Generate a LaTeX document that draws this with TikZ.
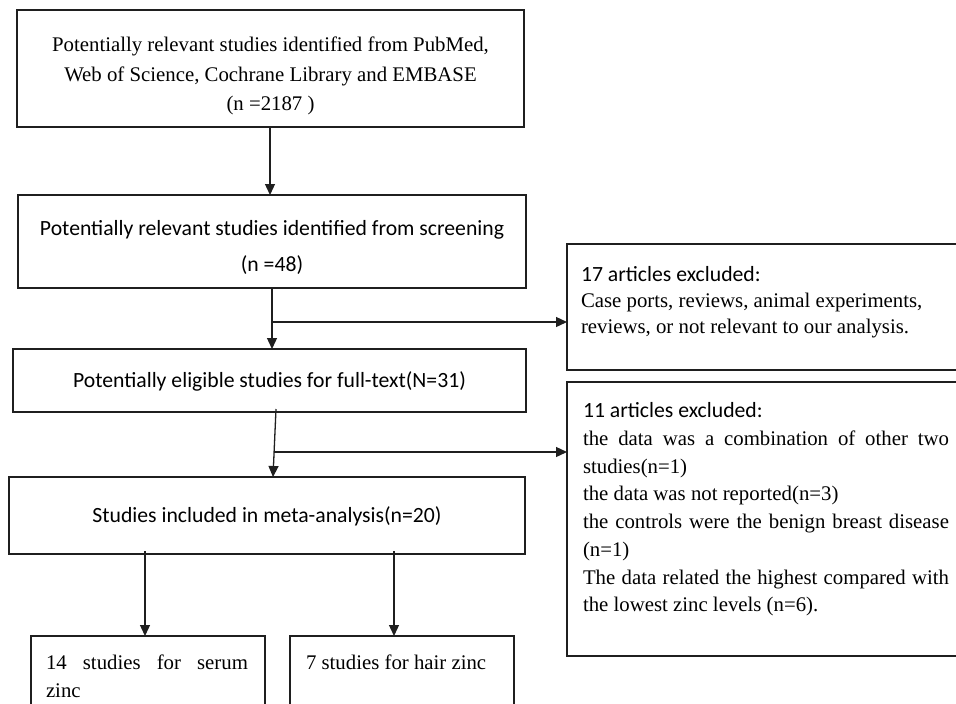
\documentclass[tikz,border=0pt]{standalone}
\usepackage{fontspec}
\setmainfont{Liberation Serif}
\newfontfamily\calfont{Carlito}
\usetikzlibrary{arrows.meta}
\hbadness=10000
\newcommand{\tmsize}[1]{\fontsize{20.8}{#1}\selectfont}
\newcommand{\cbsize}[1]{\calfont\fontsize{21.7}{#1}\selectfont}
\begin{document}
\begin{tikzpicture}[x=1pt,y=-1pt,
  box/.style={draw=black!88, line width=1.3pt, inner sep=0pt, outer sep=0pt, anchor=north west},
  arr/.style={draw=black!88, line width=1.3pt, -{Triangle[length=11pt,width=10pt]}},
  ln/.style={draw=black!88, line width=1.3pt}]
\useasboundingbox (0,0) rectangle (956,704);
\clip (0,0) rectangle (956,704);
\fill[white] (0,0) rectangle (956,704);

\node[box] (b1) at (17,10) {\begin{minipage}[t][117pt][t]{507pt}\vspace*{21pt}\centering\tmsize{29.5}\strut Potentially relevant studies identified from PubMed,\\ Web of Science, Cochrane Library and EMBASE\\ (n =2187 )\par\end{minipage}};

\node[box] (b2) at (18,195) {\begin{minipage}[t][93pt][t]{508pt}\vspace*{15pt}\centering\cbsize{36}\strut Potentially relevant studies identified from screening\\ (n =48)\par\end{minipage}};

\node[box] (b3) at (567,244) {\begin{minipage}[t][126pt][t]{413pt}\vspace*{19pt}\raggedright\leftskip=14pt\tmsize{26}\strut{\cbsize{26}17 articles excluded:}\\ Case ports, reviews, animal experiments,\\ reviews, or not relevant to our analysis.\par\end{minipage}};

\node[box] (b4) at (13,349) {\begin{minipage}[t][63pt][t]{513pt}\vspace*{20pt}\centering\cbsize{26}\strut Potentially eligible studies for full-text(N=31)\par\end{minipage}};

\node[box] (b5) at (567,382) {\begin{minipage}[t][274pt][t]{413pt}\vspace*{16.5pt}\leftskip=16pt\rightskip=31pt\tmsize{27.7}\strut{\cbsize{27.7}11 articles excluded:}\par
the data was a combination of other two\linebreak studies(n=1)\par
the data was not reported(n=3)\par
the controls were the benign breast disease\linebreak (n=1)\par
The data related the highest compared with\linebreak the lowest zinc levels (n=6).\par\end{minipage}};

\node[box] (b6) at (9,477) {\begin{minipage}[t][77pt][t]{516pt}\vspace*{27.5pt}\centering\cbsize{26}\strut Studies included in meta-analysis(n=20)\par\end{minipage}};

\node[box] (b7) at (31,636) {\begin{minipage}[t][100pt][t]{234pt}\vspace*{14pt}\leftskip=15pt\rightskip=17pt\tmsize{28}\strut 14 studies for serum\linebreak zinc\par\end{minipage}};

\node[box] (b8) at (290,636) {\begin{minipage}[t][100pt][t]{224pt}\vspace*{14pt}\raggedright\leftskip=16pt\tmsize{28}\strut 7 studies for hair zinc\par\end{minipage}};

\coordinate (xa) at (270,0);
\coordinate (xb) at (272,0);
\coordinate (xc) at (276,0);
\coordinate (xd) at (273,0);
\coordinate (xe) at (145,0);
\coordinate (xf) at (394,0);
\coordinate (j1) at (272,322);
\coordinate (j2) at (274.2,452);

\draw[arr] (b1.south -| xa) -- (b2.north -| xa);
\draw[arr] (b2.south -| xb) -- (b4.north -| xb);
\draw[arr] (j1) -- (j1 -| b3.west);
\draw[arr] ([yshift=3pt]b4.south -| xc) -- (b6.north -| xd);
\draw[arr] (j2) -- (j2 -| b5.west);
\draw[arr] ([yshift=3pt]b6.south -| xe) -- (b7.north -| xe);
\draw[arr] ([yshift=3pt]b6.south -| xf) -- (b8.north -| xf);
\end{tikzpicture}
\end{document}
